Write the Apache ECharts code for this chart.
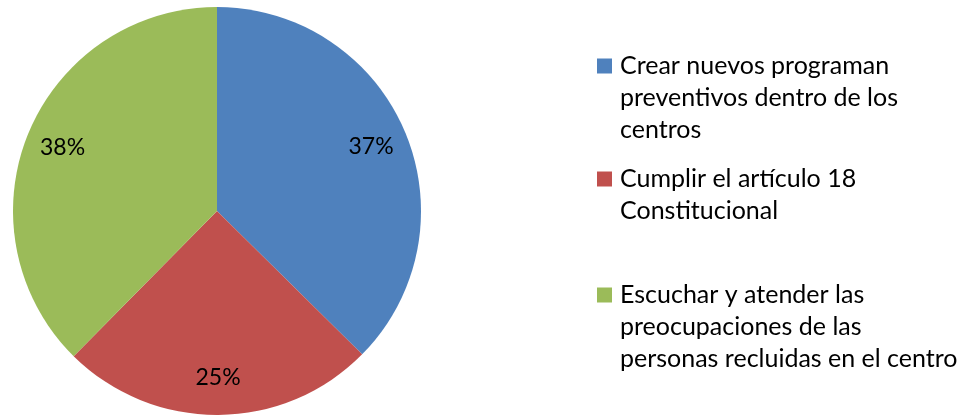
<!DOCTYPE html>
<html>
<head>
<meta charset="utf-8">
<script src="https://cdn.jsdelivr.net/npm/echarts@6/dist/echarts.min.js"></script>
<style>
  html, body { margin: 0; padding: 0; background: #ffffff; }
  #chart { width: 966px; height: 417px; }
</style>
</head>
<body>
<div id="chart"></div>
<script>
const categories = [
  'Crear nuevos programan preventivos dentro de los centros',
  'Cumplir el artículo 18 Constitucional',
  'Escuchar y atender las preocupaciones de las personas recluidas en el centro'
];
const legendLines = [
  ['Crear nuevos programan', 'preventivos dentro de los', 'centros'],
  ['Cumplir el artículo 18', 'Constitucional'],
  ['Escuchar y atender las', 'preocupaciones de las', 'personas recluidas en el centro']
];
const values = [37.4, 25.0, 37.6];
const colors = ['#4F81BD', '#C0504D', '#9BBB59'];

const FONT = 'Lato';
const FS = 25;
const LFS = 23;
const LH = 32;

const rich = {
  g: { width: 8, height: 15, lineHeight: LH },
  p: { width: 23, height: 15, lineHeight: LH },
  t: { fontFamily: FONT, fontSize: FS, lineHeight: LH, color: '#000000' }
};
colors.forEach((c, i) => {
  rich['s' + i] = { width: 15, height: 15, lineHeight: LH, backgroundColor: c, verticalAlign: 'middle' };
});

const legendTops = [50, 163, 279];
const legends = categories.map((name, i) => ({
  show: true,
  orient: 'vertical',
  left: 592,
  top: legendTops[i],
  padding: 0,
  itemWidth: 0,
  itemHeight: 0,
  icon: 'rect',
  data: [name],
  selectedMode: false,
  formatter: () => legendLines[i].map((ln, j) =>
    (j === 0 ? '{s' + i + '|}{g|}' : '{p|}') + '{t|' + ln + '}').join('\n'),
  textStyle: { rich: rich, fontFamily: FONT, fontSize: FS, lineHeight: LH, color: '#000000' }
}));

const data = categories.map((name, i) => ({ name: name, value: values[i], itemStyle: { color: colors[i] } }));
const labelData = categories.map((name, i) => ({ name: name, value: values[i] }));

const chart = echarts.init(document.getElementById('chart'), null, { renderer: 'canvas' });
chart.setOption({
  animation: false,
  backgroundColor: '#ffffff',
  legend: legends,
  series: [
    {
      type: 'pie',
      center: [217, 211],
      radius: [0, 204],
      startAngle: 90,
      clockwise: true,
      data: data,
      label: { show: false },
      labelLine: { show: false },
      itemStyle: { borderWidth: 0 },
      emphasis: { disabled: true },
      silent: true
    },
    {
      type: 'pie',
      center: [217, 211],
      radius: [124, 204],
      startAngle: 90,
      clockwise: true,
      data: labelData,
      itemStyle: { color: 'rgba(0,0,0,0)', borderWidth: 0 },
      label: {
        show: true,
        position: 'inside',
        fontFamily: FONT,
        fontSize: LFS,
        color: '#000000',
        formatter: p => Math.round(p.percent) + '%'
      },
      labelLine: { show: false },
      emphasis: { disabled: true },
      silent: true
    }
  ]
});
</script>
</body>
</html>
